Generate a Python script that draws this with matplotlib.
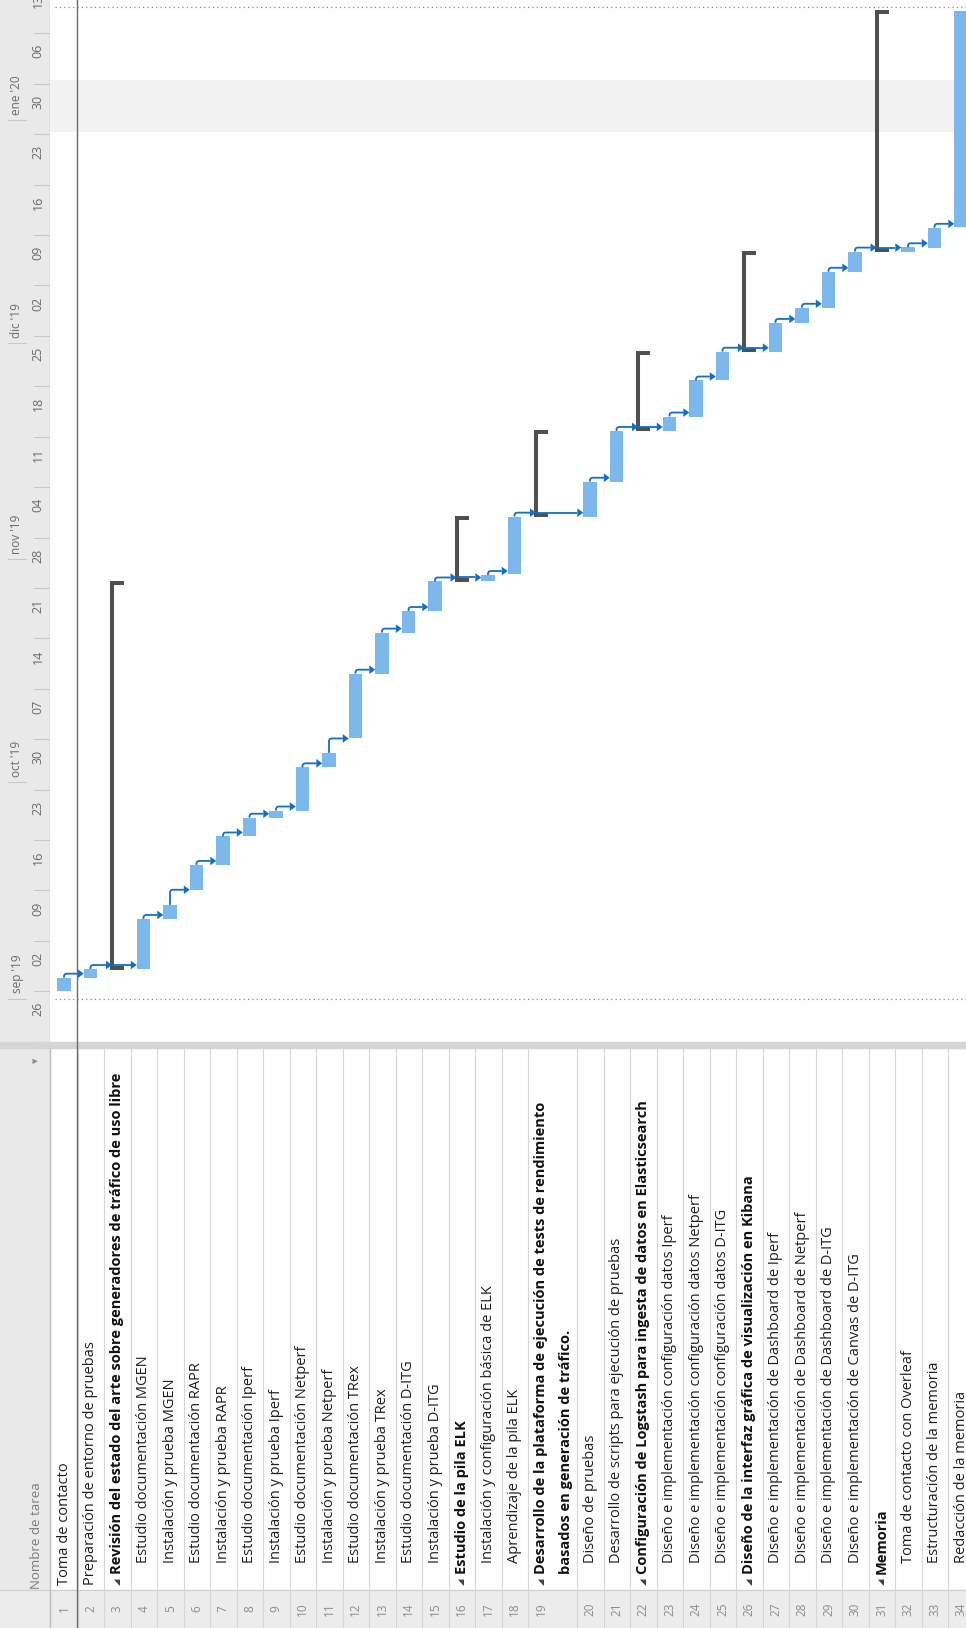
import matplotlib
matplotlib.use('Agg')
import matplotlib.pyplot as plt
import matplotlib.dates as mdates
from matplotlib.patches import Rectangle
from datetime import datetime

W, H = 966, 1628
BASE = datetime(2019, 9, 2)

# task table
TASKS = [
    "Toma de contacto",
    "Preparación de entorno de pruebas",
    "Revisión del estado del arte sobre generadores de tráfico de uso libre",
    "Estudio documentación MGEN",
    "Instalación y prueba MGEN",
    "Estudio documentación RAPR",
    "Instalación y prueba RAPR",
    "Estudio documentación Iperf",
    "Instalación y prueba Iperf",
    "Estudio documentación Netperf",
    "Instalación y prueba Netperf",
    "Estudio documentación TRex",
    "Instalación y prueba TRex",
    "Estudio documentación D-ITG",
    "Instalación y prueba D-ITG",
    "Estudio de la pila ELK",
    "Instalación y configuración básica de ELK",
    "Aprendizaje de la pila ELK",
    "Desarrollo de la plataforma de ejecución de tests de rendimiento\nbasados en generación de tráfico.",
    "Diseño de pruebas",
    "Desarrollo de scripts para ejecución de pruebas",
    "Configuración de Logstash para ingesta de datos en Elasticsearch",
    "Diseño e implementación configuración datos Iperf",
    "Diseño e implementación configuración datos Netperf",
    "Diseño e implementación configuración datos D-ITG",
    "Diseño de la interfaz gráfica de visualización en Kibana",
    "Diseño e implementación de Dashboard de Iperf",
    "Diseño e implementación de Dashboard de Netperf",
    "Diseño e implementación de Dashboard de D-ITG",
    "Diseño e implementación de Canvas de D-ITG",
    "Memoria",
    "Toma de contacto con Overleaf",
    "Estructuración de la memoria",
    "Redacción de la memoria",
]
# 'top' = top-level task, 'sum' = summary, 'sub' = subtask
KIND = ['top', 'top', 'sum'] + ['sub'] * 12 + ['sum', 'sub', 'sub', 'sum', 'sub', 'sub',
        'sum', 'sub', 'sub', 'sub', 'sum', 'sub', 'sub', 'sub', 'sub', 'sum', 'sub', 'sub', 'sub']

# start / finish, in days after 2 Sep 2019
START = [0.0, 1.9, 3.1, 3.1, 10.05, 14.1, 17.55, 21.5, 24.1, 25.1, 31.1, 35.1, 44.1, 49.8, 52.8,
         56.9, 56.9, 57.9, 65.9, 65.9, 70.75, 77.8, 77.8, 79.8, 84.8, 88.8, 88.8, 92.8, 94.9,
         99.9, 102.7, 102.7, 103.2, 106.1]
END = [1.9, 3.1, 56.9, 10.05, 12.0, 17.55, 21.5, 24.1, 25.1, 31.1, 33.1, 44.1, 49.8, 52.8, 56.9,
       65.9, 57.8, 65.9, 77.8, 70.75, 77.8, 88.8, 79.8, 84.8, 88.8, 102.7, 92.8, 94.9, 99.9,
       102.7, 136.1, 103.3, 106.0, 136.1]

# predecessor -> successor (row numbers)
LINKS = [(1, 2), (2, 3), (3, 4), (4, 5), (5, 6), (6, 7), (7, 8), (8, 9), (9, 10), (10, 11),
         (11, 12), (12, 13), (13, 14), (14, 15), (15, 16), (16, 17), (17, 18), (18, 19),
         (19, 20), (20, 21), (21, 22), (22, 23), (23, 24), (24, 25), (25, 26), (26, 27),
         (27, 28), (28, 29), (29, 30), (30, 31), (31, 32), (32, 33), (33, 34)]

WEEK_LABELS = ["26", "02", "09", "16", "23", "30", "07", "14", "21", "28", "04", "11", "18",
               "25", "02", "09", "16", "23", "30", "06", "13"]
MONTHS = ["sep '19", "oct '19", "nov '19", "dic '19", "ene '20"]
MONTH_STARTS = [datetime(2019, 9, 1), datetime(2019, 10, 1), datetime(2019, 11, 1),
                datetime(2019, 12, 1), datetime(2020, 1, 1)]
PROJECT_LINES = [-1.07, 136.6]
NONWORK = (119.3, 126.5)

BAR_COLOR = '#7db8ec'
LINK_COLOR = '#1170c4'
SUM_COLOR = '#505050'
HEAD_BG = '#e9e9e9'
GRID = '#d6d6d6'
FONT = 'Open Sans'

d0 = mdates.date2num(BASE)


def dn(days):
    return d0 + days


# row layout in px along x
ROW_H = [26.5] * 34
ROW_H[18] = 49
row_x = []
acc = 51.0
for h in ROW_H:
    row_x.append(acc)
    acc += h

fig = plt.figure(figsize=(W / 100, H / 100), dpi=100)
fig.patch.set_facecolor('white')

CH_BOT = 1042
PX_DAY = 7.203
Y0 = 991.3
ylim = (dn((Y0 - CH_BOT) / PX_DAY), dn(Y0 / PX_DAY))

ax = fig.add_axes([50 / W, 1 - CH_BOT / H, (W - 50) / W, CH_BOT / H])
ax.set_xlim(50, W)
ax.set_ylim(*ylim)
ax.axis('off')

hx = fig.add_axes([0, 1 - CH_BOT / H, 50 / W, CH_BOT / H])
hx.set_xlim(0, 50)
hx.set_ylim(*ylim)
hx.axis('off')
hx.add_patch(Rectangle((0, ylim[0]), 50, ylim[1] - ylim[0], color=HEAD_BG, zorder=0))
hx.axvline(49.5, color='#bdbdbd', lw=1)

# timescale
for i, lab in enumerate(WEEK_LABELS):
    ws = -7 + 7 * i
    hx.plot([34, 50], [dn(ws), dn(ws)], color='#c8c8c8', lw=0.8)
    hx.text(38, dn(ws + 4.5), lab, rotation=90, ha='center', va='center',
            fontsize=9, color='#6a6a6a', family=FONT, clip_on=True)
for lab, ms in zip(MONTHS, MONTH_STARTS):
    m = mdates.date2num(ms)
    hx.plot([8, 26], [m, m], color='#c8c8c8', lw=0.8)
    hx.text(17, m + 0.7, lab, rotation=90, ha='center', va='bottom',
            fontsize=8.5, color='#6a6a6a', family=FONT, clip_on=True)

# chart background
ax.axhspan(dn(NONWORK[0]), dn(NONWORK[1]), color='#f2f2f2', lw=0, zorder=0)
for p in PROJECT_LINES:
    ax.plot([55, W], [dn(p), dn(p)], color='#8a8a8a', lw=0.9, ls=(0, (1, 2.5)), zorder=1)

# bars and summaries
for i in range(34):
    x0 = row_x[i]
    s, e = dn(START[i]), dn(END[i])
    if KIND[i] == 'sum':
        lx, cx = x0 + 8, x0 + 20
        ax.plot([cx, lx, lx, cx], [s + 0.2, s + 0.2, e - 0.2, e - 0.2], color=SUM_COLOR,
                lw=2.9, solid_joinstyle='miter', solid_capstyle='butt', zorder=3)
    else:
        ax.bar(x0 + 13, e - s, bottom=s, width=13.4, color=BAR_COLOR, lw=0, zorder=3)

# dependency links
AH_L, AH_W = 6, 0.6
for a, b in LINKS:
    ia, ib = a - 1, b - 1
    if KIND[ib] == 'sum':
        tip = row_x[ib] + 8
    else:
        tip = row_x[ib] + 6.3
    if KIND[ia] == 'sum':
        y = dn(START[ia] + 0.55)
        xs, ys = [row_x[ia] + 8, tip - AH_L], [y, y]
    else:
        xc = row_x[ia] + 13
        e = END[ia]
        ya = max(e + 0.55, START[ib])
        xs = [xc, xc, xc + 0.8, xc + 2.5, tip - AH_L]
        ys = [dn(e), dn(ya - 0.3), dn(ya - 0.08), dn(ya), dn(ya)]
        y = dn(ya)
    ax.plot(xs, ys, color=LINK_COLOR, lw=1.3, zorder=4, solid_capstyle='butt')
    ax.fill([tip - AH_L, tip, tip - AH_L], [y - AH_W, y, y + AH_W], color=LINK_COLOR,
            lw=0, zorder=4)

# table
TB_TOP = 1048
tx = fig.add_axes([0, 0, 1, (H - TB_TOP) / H])
tx.set_xlim(0, W)
tx.set_ylim(H, TB_TOP)
tx.axis('off')
tx.add_patch(Rectangle((0, TB_TOP), 50, H - TB_TOP, color=HEAD_BG, zorder=0))
tx.add_patch(Rectangle((0, 1590), W, H - 1590, color='#ececec', zorder=0))
tx.plot([0, W], [1590, 1590], color='#cdcdcd', lw=0.8)
tx.plot([50, 50], [TB_TOP, H], color='#bdbdbd', lw=1)
for i in range(34):
    tx.plot([row_x[i] + ROW_H[i]] * 2, [TB_TOP, H], color=GRID, lw=0.8)
tx.text(36, 1589, "Nombre de tarea", rotation=90, ha='center', va='bottom',
        fontsize=9.5, color='#7a7a7a', family=FONT)
tx.text(36, 1060, "▼", rotation=90, ha='center', va='center', fontsize=5,
        color='#8a8a8a', family='DejaVu Sans')

for i, name in enumerate(TASKS):
    xc = row_x[i] + 13.25
    tx.text(xc, 1609, str(i + 1), rotation=90, ha='center', va='center',
            fontsize=8.5, color='#8c8c8c', family=FONT)
    lines = name.split('\n')
    for k, ln in enumerate(lines):
        xl = xc + 25 * k
        if KIND[i] == 'top':
            tx.text(xl, 1585, ln, rotation=90, ha='center', va='bottom',
                    fontsize=10.5, color='#1e1e1e', family=FONT)
        elif KIND[i] == 'sub':
            tx.text(xl, 1563, ln, rotation=90, ha='center', va='bottom',
                    fontsize=10.5, color='#1e1e1e', family=FONT)
        else:
            if k == 0:
                tx.text(xl, 1582, "◢", rotation=90, ha='center', va='center',
                        fontsize=6, color='#404040', family='DejaVu Sans')
            tx.text(xl, 1574, ln, rotation=90, ha='center', va='bottom',
                    fontsize=10.5, fontweight='bold', color='#111111', family=FONT)

# splitter and selection line
fig.patches.append(Rectangle((0, 1 - TB_TOP / H), 1, 6 / H, transform=fig.transFigure,
                             color='#d5d5d5', zorder=5))
fig.add_artist(plt.Line2D([77 / W, 77 / W], [0, 1], transform=fig.transFigure,
                          color='#6b6b6b', lw=1, zorder=6))

fig.savefig('out.png', dpi=100, facecolor='white')
